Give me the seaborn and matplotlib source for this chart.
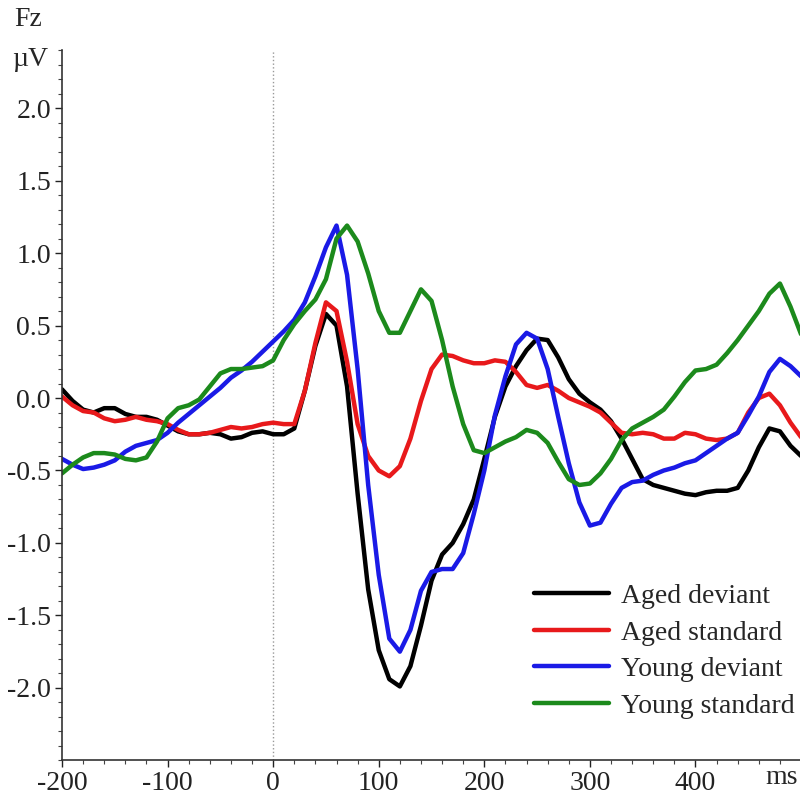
# Fz grand-average ERPs: aged vs young, deviant vs standard

import pandas as pd
import numpy as np
import matplotlib.pyplot as plt
import seaborn as sns
from matplotlib.ticker import MultipleLocator

time_ms = list(range(-200, 510, 10))

aged_deviant = [
    0.06, -0.02, -0.08, -0.10, -0.07, -0.07, -0.11, -0.13, -0.13, -0.15,
    -0.19, -0.23, -0.25, -0.25, -0.24, -0.25, -0.28, -0.27, -0.24, -0.23,
    -0.25, -0.25, -0.21, 0.05, 0.36, 0.58, 0.50, 0.08, -0.66, -1.32,
    -1.74, -1.94, -1.99, -1.85, -1.57, -1.26, -1.08, -1.00, -0.87, -0.70,
    -0.42, -0.13, 0.08, 0.22, 0.33, 0.41, 0.40, 0.28, 0.13, 0.03,
    -0.03, -0.08, -0.16, -0.28, -0.42, -0.56, -0.60, -0.62, -0.64, -0.66,
    -0.67, -0.65, -0.64, -0.64, -0.62, -0.50, -0.34, -0.21, -0.23, -0.33,
    -0.40,
]
aged_standard = [
    0.01, -0.05, -0.09, -0.10, -0.14, -0.16, -0.15, -0.13, -0.15, -0.16,
    -0.18, -0.22, -0.25, -0.25, -0.24, -0.22, -0.20, -0.21, -0.20, -0.18,
    -0.17, -0.18, -0.18, 0.05, 0.38, 0.66, 0.60, 0.25, -0.18, -0.40,
    -0.50, -0.54, -0.47, -0.28, -0.02, 0.20, 0.30, 0.29, 0.26, 0.24,
    0.24, 0.26, 0.25, 0.18, 0.09, 0.07, 0.09, 0.05, 0.00, -0.03,
    -0.06, -0.10, -0.17, -0.24, -0.25, -0.24, -0.25, -0.28, -0.28, -0.24,
    -0.25, -0.28, -0.29, -0.28, -0.24, -0.10, 0.00, 0.03, -0.05, -0.17,
    -0.27,
]
young_deviant = [
    -0.42, -0.46, -0.49, -0.48, -0.46, -0.43, -0.37, -0.33, -0.31, -0.29,
    -0.24, -0.17, -0.11, -0.05, 0.01, 0.07, 0.14, 0.19, 0.25, 0.32,
    0.39, 0.46, 0.54, 0.66, 0.84, 1.04, 1.19, 0.85, 0.20, -0.60,
    -1.22, -1.66, -1.75, -1.60, -1.33, -1.20, -1.18, -1.18, -1.07, -0.80,
    -0.50, -0.12, 0.15, 0.37, 0.45, 0.41, 0.20, -0.13, -0.45, -0.72,
    -0.88, -0.86, -0.73, -0.62, -0.58, -0.57, -0.53, -0.50, -0.48, -0.45,
    -0.43, -0.38, -0.33, -0.28, -0.24, -0.12, 0.01, 0.18, 0.27, 0.22,
    0.15,
]
young_standard = [
    -0.52, -0.46, -0.41, -0.38, -0.38, -0.39, -0.42, -0.43, -0.41, -0.30,
    -0.14, -0.07, -0.05, -0.01, 0.08, 0.17, 0.20, 0.20, 0.21, 0.22,
    0.26, 0.40, 0.51, 0.60, 0.68, 0.82, 1.10, 1.19, 1.08, 0.86,
    0.60, 0.45, 0.45, 0.60, 0.75, 0.67, 0.40, 0.08, -0.18, -0.36,
    -0.38, -0.34, -0.30, -0.27, -0.22, -0.24, -0.31, -0.44, -0.56, -0.60,
    -0.59, -0.52, -0.42, -0.29, -0.21, -0.17, -0.13, -0.08, 0.01, 0.11,
    0.19, 0.20, 0.23, 0.31, 0.40, 0.50, 0.60, 0.72, 0.79, 0.63,
    0.44,
]

conditions = ["Aged deviant", "Aged standard", "Young deviant", "Young standard"]
colors = ["#000000", "#e8191b", "#1a1ae6", "#1c8a1c"]

erp = pd.DataFrame({
    "Time": time_ms * 4,
    "Amplitude": aged_deviant + aged_standard + young_deviant + young_standard,
    "Condition": np.repeat(conditions, len(time_ms)),
})

sns.set_style("ticks")
plt.rcParams["font.family"] = ["Liberation Serif", "DejaVu Serif"]
plt.rcParams["axes.unicode_minus"] = False

fig = plt.figure(figsize=(8, 7.97), dpi=100)
ax = fig.add_axes([0.0775, 0.046, 0.9225, 0.891])

sns.lineplot(data=erp, x="Time", y="Amplitude", hue="Condition",
             palette=dict(zip(conditions, colors)), linewidth=3.2, ax=ax)
ax.axvline(0, color="#999999", linestyle=":", linewidth=1, zorder=0)

ax.set_xlim(-200, 499)
ax.set_ylim(-2.5, 2.4)
ax.set_xticks([-200, -100, 0, 100, 200, 300, 400])
ax.set_yticks([-2.0, -1.5, -1.0, -0.5, 0.0, 0.5, 1.0, 1.5, 2.0])
ax.set_yticklabels(["-2.0", "-1.5", "-1.0", "-0.5", "0.0", "0.5", "1.0", "1.5", "2.0"])
ax.xaxis.set_minor_locator(MultipleLocator(20))
ax.yaxis.set_minor_locator(MultipleLocator(0.1))
ax.tick_params(which="major", length=5, width=1, labelsize=20, colors="#222222", pad=3)
ax.tick_params(which="minor", length=3, width=0.8, colors="#444444")
ax.set_xlabel("")
ax.set_ylabel("")
sns.despine(ax=ax)
for side in ["left", "bottom"]:
    ax.spines[side].set_color("#333333")
    ax.spines[side].set_linewidth(1.2)

fig.text(0.018, 0.975, "Fz", fontsize=20, va="center", ha="left")
fig.text(0.015, 0.925, "\u00b5V", fontsize=20, va="center", ha="left")
fig.text(0.957, 0.024, "ms", fontsize=20, va="center", ha="left")

ax.legend(loc="lower right", bbox_to_anchor=(1.008, 0.043), borderaxespad=0,
          frameon=False, fontsize=20, handlelength=2.7, handletextpad=0.45,
          labelspacing=0.4)

fig.savefig("out.png", dpi=100)
